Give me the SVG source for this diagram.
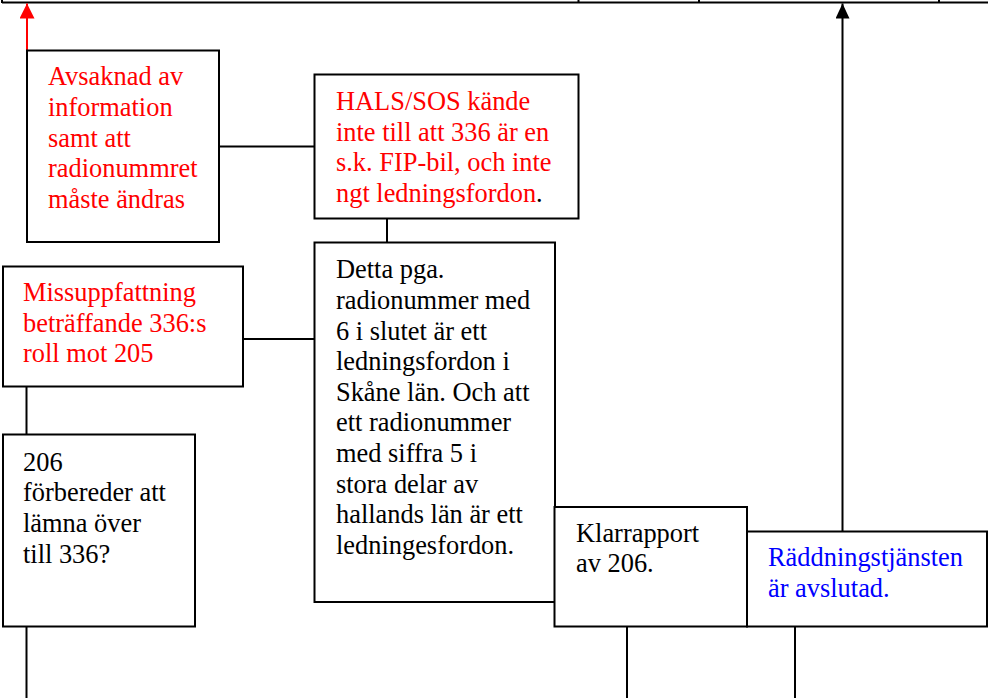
<svg xmlns="http://www.w3.org/2000/svg" width="988" height="698" viewBox="0 0 988 698">
<style>
  .box { fill: #fff; stroke: #000; stroke-width: 2; }
  .ln { fill: none; stroke: #000; stroke-width: 2; }
  .red-ln { fill: none; stroke: #f00; stroke-width: 2; }
  .r { fill: #f00; }
  .k { fill: #000; }
  .b { fill: #00f; }
</style>
<defs>
  <marker id="ahRed" markerUnits="userSpaceOnUse" markerWidth="16" markerHeight="16" refX="15" refY="7.5" orient="auto">
    <path d="M0,0 L15,7.5 L0,15 z" fill="#f00"/>
  </marker>
  <marker id="ahBlack" markerUnits="userSpaceOnUse" markerWidth="16" markerHeight="16" refX="15" refY="7" orient="auto">
    <path d="M0,0 L15,7 L0,14 z" fill="#000"/>
  </marker>
</defs>
<rect width="988" height="698" fill="#fff"/>

<g id="connectors">
  <line class="ln" x1="2" y1="2.5" x2="988" y2="2.5"/>
  <line class="ln" x1="2" y1="0" x2="2" y2="3"/>
  <line class="ln" x1="578.5" y1="0" x2="578.5" y2="3"/>
  <line class="ln" x1="699" y1="0" x2="699" y2="3"/>
  <line class="ln" x1="939" y1="0" x2="939" y2="3"/>
  <line class="red-ln" x1="27" y1="50" x2="27" y2="3.5" marker-end="url(#ahRed)"/>
  <line class="ln" x1="842.5" y1="531" x2="842.5" y2="3.5" marker-end="url(#ahBlack)"/>
  <line class="ln" x1="219" y1="146.5" x2="314" y2="146.5"/>
  <line class="ln" x1="387" y1="218.5" x2="387" y2="242.5"/>
  <line class="ln" x1="243" y1="339" x2="314" y2="339"/>
  <line class="ln" x1="26.5" y1="386.5" x2="26.5" y2="434.5"/>
  <line class="ln" x1="26.5" y1="626.5" x2="26.5" y2="698"/>
  <line class="ln" x1="627" y1="626.5" x2="627" y2="698"/>
  <line class="ln" x1="795" y1="626.5" x2="795" y2="698"/>
</g>

<g font-family="Liberation Serif, Tinos, Times New Roman, DejaVu Serif, serif" font-size="26.4">
<g id="n-avsaknad">
  <rect class="box" x="27" y="50.5" width="192" height="191.5"/>
  <text class="r"><tspan x="48" y="85.3">Avsaknad av</tspan><tspan x="48" y="115.9">information</tspan><tspan x="48" y="146.5">samt att</tspan><tspan x="48" y="177.1">radionummret</tspan><tspan x="48" y="207.7">måste ändras</tspan></text>
</g>

<g id="n-hals">
  <rect class="box" x="314.5" y="74.5" width="264" height="144"/>
  <text class="r"><tspan x="336" y="110">HALS/SOS kände</tspan><tspan x="336" y="140.6">inte till att 336 är en</tspan><tspan x="336" y="171.2">s.k. FIP-bil, och inte</tspan><tspan x="336" y="201.8">ngt ledningsfordon<tspan class="k">.</tspan></tspan></text>
</g>

<g id="n-detta">
  <rect class="box" x="314.5" y="242.5" width="240.5" height="359.5"/>
  <text class="k"><tspan x="336" y="278.3">Detta pga.</tspan><tspan x="336" y="308.9">radionummer med</tspan><tspan x="336" y="339.5">6 i slutet är ett</tspan><tspan x="336" y="370.1">ledningsfordon i</tspan><tspan x="336" y="400.7">Skåne län. Och att</tspan><tspan x="336" y="431.3">ett radionummer</tspan><tspan x="336" y="461.9">med siffra 5 i</tspan><tspan x="336" y="492.5">stora delar av</tspan><tspan x="336" y="523.1">hallands län är ett</tspan><tspan x="336" y="553.7">ledningesfordon.</tspan></text>
</g>

<g id="n-missuppfattning">
  <rect class="box" x="3" y="266.5" width="240" height="120"/>
  <text class="r"><tspan x="23" y="301">Missuppfattning</tspan><tspan x="23" y="331.6">beträffande 336:s</tspan><tspan x="23" y="362.2">roll mot 205</tspan></text>
</g>

<g id="n-206">
  <rect class="box" x="3" y="434.5" width="192" height="192"/>
  <text class="k"><tspan x="23" y="470.7">206</tspan><tspan x="23" y="501.3">förbereder att</tspan><tspan x="23" y="531.9">lämna över</tspan><tspan x="23" y="562.5">till 336?</tspan></text>
</g>

<g id="n-klarrapport">
  <rect class="box" x="554.5" y="507" width="192.5" height="119.5"/>
  <text class="k"><tspan x="576" y="541.7">Klarrapport</tspan><tspan x="576" y="572.3">av 206.</tspan></text>
</g>

<g id="n-avslutad">
  <rect class="box" x="747" y="531.5" width="240" height="95"/>
  <text class="b"><tspan x="768" y="566">Räddningstjänsten</tspan><tspan x="768" y="596.6">är avslutad.</tspan></text>
</g>
</g>
</svg>
